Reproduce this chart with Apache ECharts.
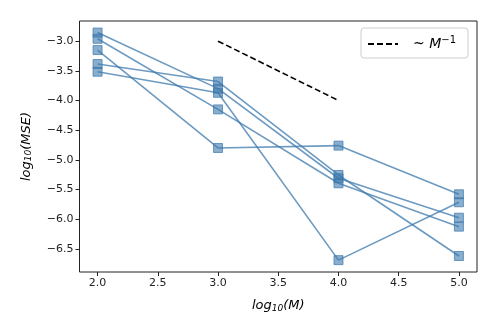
<!DOCTYPE html>
<html>
<head>
<meta charset="utf-8">
<script src="https://cdn.jsdelivr.net/npm/echarts@6/dist/echarts.min.js"></script>
<style>
html, body { margin: 0; padding: 0; background: #fff; }
#chart { width: 498px; height: 332px; }
</style>
</head>
<body>
<div id="chart"></div>
<script>
// log10(M) positions and log10(MSE) for each run
var xs = [2, 3, 4, 5];
var runA = [-2.855, -3.80, -5.31, -5.975];
var runB = [-2.96, -4.15, -5.395, -6.126];
var runC = [-3.15, -4.80, -4.76, -5.58];
var runD = [-3.385, -3.68, -5.255, -6.62];
var runE = [-3.515, -3.87, -6.69, -5.715];
var runs = [runA, runB, runC, runD, runE];

// reference slope line ~ M^-1
var refX = [3, 4];
var refY = [-3, -4];

var xTicks = [2.0, 2.5, 3.0, 3.5, 4.0, 4.5, 5.0];
var yTicks = [-6.5, -6.0, -5.5, -5.0, -4.5, -4.0, -3.5, -3.0];

var myChart = echarts.init(document.getElementById('chart'));

function pairs(xv, yv) {
	return xv.map(function (x, i) { return [x, yv[i]]; });
}

var blue = 'rgba(60,120,172,0.75)';
var series = runs.map(function (r) {
	return {
		type: 'line',
		data: pairs(xs, r),
		symbol: 'rect',
		symbolSize: 9,
		lineStyle: { color: blue, width: 1.6 },
		itemStyle: { color: 'rgba(60,120,172,0.6)', borderColor: 'rgba(60,120,172,0.7)', borderWidth: 1 },
		z: 2
	};
});
series.push({
	name: 'ref',
	type: 'line',
	data: pairs(refX, refY),
	symbol: 'none',
	lineStyle: { color: '#000', width: 1.6, type: [6, 3] },
	z: 3
});

var fmt = function (v) { return (v < 0 ? '\u2212' : '') + Math.abs(v).toFixed(1); };
var axisTxt = { color: '#222', fontSize: 11, fontFamily: 'DejaVu Sans' };

var option = {
	animation: false,
	grid: { left: 79.5, right: 21, top: 21, bottom: 60, show: true, borderColor: '#222', borderWidth: 1 },
	legend: {
		data: [{ name: 'ref', itemStyle: { opacity: 0 } }],
		right: 30, top: 28,
		itemWidth: 30, itemHeight: 10,
		padding: [7, 12, 7, 6],
		borderColor: '#ccc', borderWidth: 1, borderRadius: 3,
		formatter: function () { return '{n|~ }{i|M}{s|\u22121}'; },
		textStyle: {
			fontFamily: 'DejaVu Sans', color: '#000', padding: [0, 0, 0, 10],
			rich: {
				n: { fontSize: 14, fontFamily: 'DejaVu Sans' },
				i: { fontSize: 14, fontStyle: 'italic', fontFamily: 'DejaVu Sans' },
				s: { fontSize: 10, fontFamily: 'DejaVu Sans', padding: [0, 0, 8, 0] }
			}
		}
	},
	xAxis: {
		type: 'value', min: 1.85, max: 5.15,
		splitLine: { show: false },
		axisLine: { show: false },
		axisTick: { show: true, length: 4, lineStyle: { color: '#222' }, customValues: xTicks },
		axisLabel: Object.assign({ customValues: xTicks, formatter: fmt, margin: 6 }, axisTxt),
		name: '{i|log}{s|10}{i|(M)}',
		nameLocation: 'middle', nameGap: 27,
		nameTextStyle: {
			rich: {
				i: { fontSize: 13, fontStyle: 'italic', fontFamily: 'DejaVu Sans', color: '#000' },
				s: { fontSize: 9, fontStyle: 'italic', fontFamily: 'DejaVu Sans', color: '#000', padding: [5, 0, 0, 0] }
			}
		}
	},
	yAxis: {
		type: 'value', min: -6.89, max: -2.66,
		splitLine: { show: false },
		axisLine: { show: false },
		axisTick: { show: true, length: 4, lineStyle: { color: '#222' }, customValues: yTicks },
		axisLabel: Object.assign({ customValues: yTicks, formatter: fmt, margin: 6 }, axisTxt),
		name: '{i|log}{s|10}{i|(MSE)}',
		nameLocation: 'middle', nameGap: 46, nameRotate: 90,
		nameTextStyle: {
			rich: {
				i: { fontSize: 13, fontStyle: 'italic', fontFamily: 'DejaVu Sans', color: '#000' },
				s: { fontSize: 9, fontStyle: 'italic', fontFamily: 'DejaVu Sans', color: '#000', padding: [5, 0, 0, 0] }
			}
		}
	},
	series: series
};

myChart.setOption(option);
</script>
</body>
</html>
